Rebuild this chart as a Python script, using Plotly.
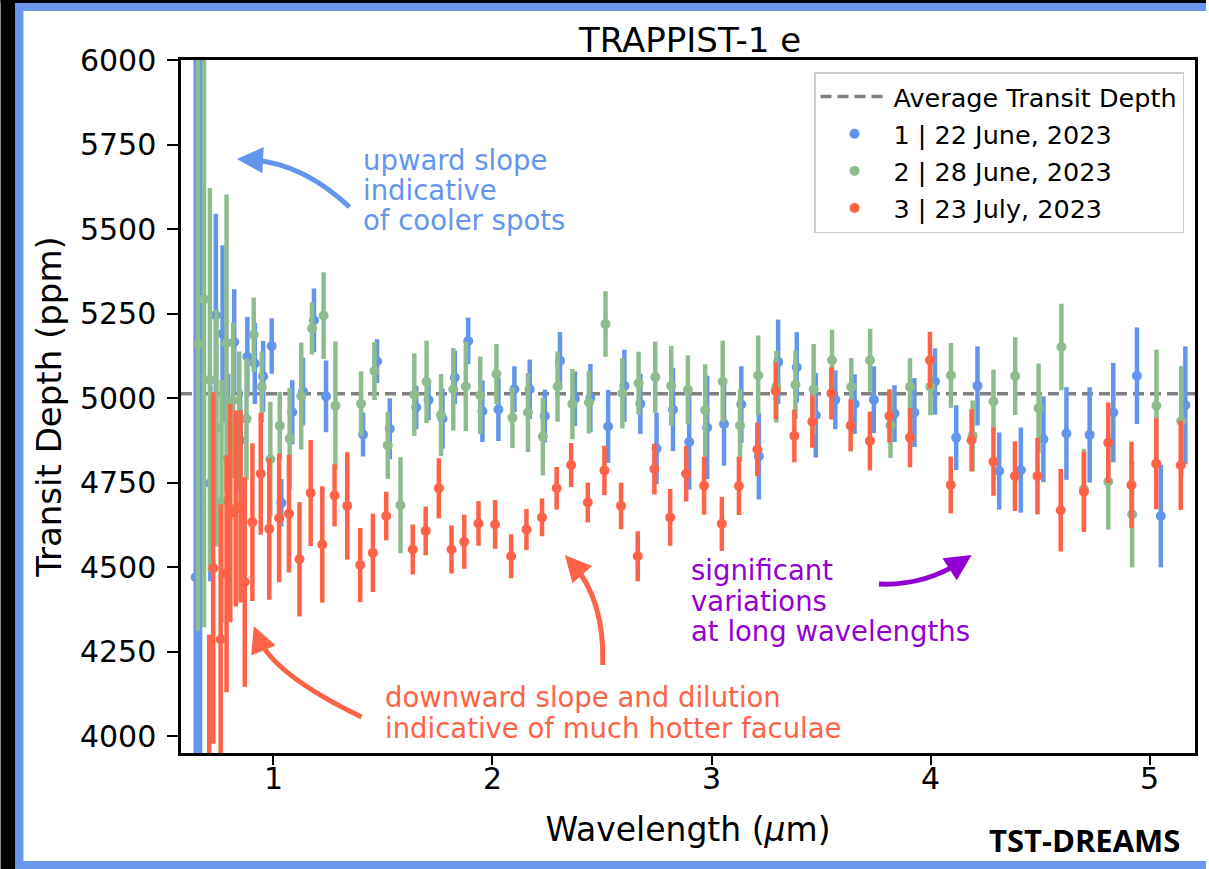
import plotly.graph_objects as go

# ---------------- data ----------------
avg_depth = 5013

wl_1 = [0.645, 0.665, 0.712, 0.737, 0.768, 0.793, 0.821, 0.848, 0.881, 0.915, 0.953, 0.992,
        1.036, 1.086, 1.135, 1.185, 1.240, 1.409, 1.473, 1.531, 1.652, 1.708,
        1.772, 1.828, 1.889, 1.954, 2.027, 2.100, 2.170, 2.239, 2.308, 2.376, 2.447, 2.528,
        2.602, 2.675, 2.749, 2.824, 2.898, 2.980, 3.057,
        3.136, 3.216, 3.304, 3.389, 3.476, 3.565, 3.653, 3.741, 3.835, 3.926, 4.020, 4.117,
        4.214, 4.313, 4.412, 4.515, 4.620, 4.726, 4.834, 4.942, 5.051, 5.163]
depth_1 = [4470, 4700, 4748, 5245, 5190, 4822, 5166, 4875, 5122, 5102, 5064, 5154,
           4690, 4958, 5019, 5230, 5005, 4892, 5109, 4909, 4972, 4994,
           4939, 5061, 5169, 4961, 4966, 5026, 5026, 4947, 5110, 4998, 5000, 4916,
           5036, 4983, 4851, 4966, 4870, 4913, 4923,
           4981, 4828, 5107, 5091, 4949, 4995, 4982, 4995, 4954, 4957, 5049, 4883,
           5036, 4784, 4787, 4878, 4895, 4891, 4957, 5066, 4651, 4979]
err_1 = [1550, 1400, 290, 300, 262, 250, 156, 150, 118, 120, 105, 82,
         70, 95, 100, 94, 106, 65, 65, 90, 64, 60,
         89, 79, 69, 91, 93, 68, 88, 78, 85, 81, 101, 108,
         107, 89, 106, 123, 141, 153, 123,
         113, 128, 125, 104, 125, 87, 88, 99, 84, 102, 98, 96,
         117, 114, 126, 127, 137, 141, 147, 143, 152, 174]

wl_2 = [0.655, 0.683, 0.710, 0.740, 0.763, 0.786, 0.816, 0.844, 0.877, 0.910, 0.947, 0.986,
        1.029, 1.074, 1.127, 1.176, 1.229, 1.283, 1.400, 1.461, 1.522, 1.580, 1.643, 1.699,
        1.765, 1.821, 1.878, 1.944, 2.018, 2.091, 2.162, 2.230, 2.297, 2.365, 2.440, 2.516,
        2.593, 2.667, 2.743, 2.816, 2.892, 2.971, 3.051,
        3.130, 3.213, 3.296, 3.383, 3.466, 3.550, 3.638, 3.724, 3.817, 3.906, 3.999, 4.093,
        4.192, 4.287, 4.386, 4.493, 4.597, 4.700, 4.811, 4.920, 5.031, 5.144]
depth_2 = [5160, 5292, 5054, 4911, 4694, 5162, 4993, 4938, 4938, 5187, 5033, 4819,
           4918, 4880, 5006, 5206, 5244, 4977, 4983, 5080, 4860, 4683, 5010, 5048,
           4950, 5026, 5034, 5008, 5071, 4942, 4957, 4886, 5034, 4982, 4987, 5219,
           5014, 5044, 5062, 5036, 5024, 4964, 5049,
           4919, 5067, 5033, 5039, 5026, 5112, 5033, 5112, 4919, 5033, 5033, 5067,
           4888, 4990, 5065, 4970, 5151, 4730, 4753, 4656, 4977, 4932]
err_2 = [850, 970, 567, 350, 360, 440, 230, 200, 180, 110, 105, 170,
         100, 150, 158, 77, 128, 190, 96, 86, 99, 142, 122, 122,
         121, 122, 132, 115, 89, 90, 117, 115, 104, 104, 92, 97,
         104, 93, 105, 118, 102, 136, 121,
         107, 118, 106, 101, 134, 90, 85, 93, 96, 85, 84, 96,
         105, 94, 115, 132, 128, 120, 142, 157, 166, 163]

wl_3 = [0.707, 0.725, 0.759, 0.786, 0.803, 0.828, 0.850, 0.869, 0.904, 0.942, 0.981,
        1.026, 1.071, 1.119, 1.170, 1.223, 1.279, 1.337, 1.396, 1.454, 1.515, 1.636, 1.695,
        1.755, 1.813, 1.871, 1.936, 2.012, 2.085, 2.155, 2.226, 2.293, 2.359, 2.435, 2.511,
        2.587, 2.663, 2.739, 2.811, 2.884, 2.966, 3.047,
        3.125, 3.209, 3.293, 3.378, 3.460, 3.547, 3.635, 3.723, 3.812, 3.906, 3.997, 4.092,
        4.187, 4.287, 4.385, 4.488, 4.594, 4.700, 4.811, 4.917, 5.030, 5.142]
depth_3 = [3850, 4497, 4286, 4480, 4660, 4673, 4680, 4456, 4633, 4776, 4613,
           4645, 4658, 4523, 4719, 4567, 4712, 4681, 4506, 4542, 4651, 4552, 4607,
           4733, 4552, 4575, 4629, 4626, 4532, 4611, 4647, 4733, 4802, 4691, 4786,
           4681, 4532, 4790, 4647, 4776, 4741, 4628,
           4740, 4848, 5021, 4888, 4930, 5014, 4919, 4873, 4947, 4883, 5112, 4743,
           4875, 4812, 4769, 4769, 4668, 4723, 4868, 4743, 4806, 4801]
err_3 = [450, 520, 400, 350, 323, 290, 285, 310, 233, 180, 210,
         190, 174, 169, 157, 172, 92, 159, 110, 116, 72, 74, 72,
         89, 71, 80, 66, 72, 65, 61, 56, 63, 65, 59, 73,
         69, 74, 75, 84, 82, 86, 80,
         86, 79, 84, 78, 77, 77, 77, 87, 79, 88, 84, 84,
         92, 101, 103, 113, 122, 119, 119, 128, 135, 132]

series_names = ["1 | 22 June, 2023", "2 | 28 June, 2023", "3 | 23 July, 2023"]
series_colors = ["#6495ED", "#8FBC8F", "#FF6347"]

x_range = [0.578, 5.207]
y_range = [3950, 6000]
y_ticks = [4000, 4250, 4500, 4750, 5000, 5250, 5500, 5750, 6000]
x_ticks = [1, 2, 3, 4, 5]

# ---------------- layout geometry ----------------
W, H = 1209, 869
L, R, T, B = 181, 11, 60, 116
PW, PH = W - L - R, H - T - B


def fx(px):
    return (px - L) / PW


def fy(py):
    return (H - B - py) / PH


FONT = "DejaVu Sans"
FRAME_BLUE = "#6A96EE"

fig = go.Figure()

fig.add_trace(go.Scatter(
    x=x_range, y=[avg_depth, avg_depth], mode="lines", legendgroup="avg",
    line=dict(color="rgba(85,85,85,0.75)", width=3.5, dash="11px,6px"),
    name="Average Transit Depth"))

for i, (wl, dep, err) in enumerate([(wl_1, depth_1, err_1), (wl_2, depth_2, err_2),
                                    (wl_3, depth_3, err_3)]):
    col = series_colors[i]
    fig.add_trace(go.Scatter(
        x=wl, y=dep, mode="markers", name=series_names[i], legendgroup=f"g{i}",
        marker=dict(color=col, size=10, line=dict(width=0)),
        error_y=dict(type="data", array=err, visible=True, thickness=4.5, width=0, color=col)))

# ---------------- background frame (left / top / bottom only) ----------------
def rect(x0, y0, x1, y1, color, layer="below"):
    return dict(type="rect", xref="paper", yref="paper", layer=layer,
                x0=fx(x0), x1=fx(x1), y0=fy(y1), y1=fy(y0),
                fillcolor=color, line=dict(width=0))

shapes = [
    rect(0, 0, 15, H, "black"),
    rect(0, 0, W, 3, "black"),
    rect(15, 3, 23, H, FRAME_BLUE),
    rect(15, 3, W, 11, FRAME_BLUE),
    rect(15, 861, W, H, FRAME_BLUE),
]

# ---------------- curved arrows ----------------
arrows = [
    # (tail, control, tip, color)
    ((350, 207), (302, 162), (237, 159), "#6495ED"),
    ((362, 717), (273, 674), (254, 626), "#FF6347"),
    ((604, 665), (606, 600), (566, 555), "#FF6347"),
    ((881, 584), (926, 586), (974, 555), "#9400D3"),
]
annotations = []
for (p0, c, p2, col) in arrows:
    dx, dy = c[0] - p2[0], c[1] - p2[1]
    n = (dx * dx + dy * dy) ** 0.5
    ux, uy = dx / n, dy / n
    hl = 12
    end = (p2[0] + ux * hl, p2[1] + uy * hl)
    shapes.append(dict(type="path", xref="paper", yref="paper", layer="above",
                       path=f"M {fx(p0[0])},{fy(p0[1])} Q {fx(c[0])},{fy(c[1])} {fx(end[0])},{fy(end[1])}",
                       line=dict(color=col, width=5)))
    annotations.append(dict(xref="paper", yref="paper", x=fx(p2[0]), y=fy(p2[1]),
                            ax=ux * 18, ay=uy * 18, text="", showarrow=True,
                            arrowhead=2, arrowsize=1.05, arrowwidth=5, arrowcolor=col))

# ---------------- texts ----------------
def txt(s, x, y, color, size, anchor="left", family=FONT):
    annotations.append(dict(xref="paper", yref="paper", x=fx(x), y=fy(y), text=s,
                            showarrow=False, xanchor=anchor, yanchor="middle",
                            font=dict(family=family, size=size, color=color)))

txt("TRAPPIST-1 e", 691, 40, "black", 34, anchor="center")
for i, s in enumerate(["upward slope", "indicative", "of cooler spots"]):
    txt(s, 362, 160 + 30 * i, "#6495ED", 27.5)
for i, s in enumerate(["downward slope and dilution", "indicative of much hotter faculae"]):
    txt(s, 384, 697 + 31 * i, "#FF6347", 27.5)
for i, s in enumerate(["significant", "variations", "at long wavelengths"]):
    txt(s, 691, 570 + 30.5 * i, "#9400D3", 27.5)
txt("<b>TST-DREAMS</b>", 1087, 840, "black", 31, anchor="center", family="Open Sans")

axis_common = dict(showline=True, linecolor="black", linewidth=2.5, mirror=True,
                   ticks="outside", tickwidth=2.2, tickcolor="black",
                   showgrid=False, zeroline=False,
                   tickfont=dict(family=FONT, size=30, color="black"))

fig.update_layout(
    width=W, height=H, autosize=False,
    margin=dict(l=L, r=R, t=T, b=B, pad=0),
    paper_bgcolor="white", plot_bgcolor="white",
    font=dict(family=FONT, color="black"),
    xaxis=dict(range=x_range, tickvals=x_ticks, ticklen=9, ticklabelstandoff=-12,
               title=dict(text="Wavelength (<i>μ</i>m)", font=dict(family=FONT, size=33), standoff=24),
               **axis_common),
    yaxis=dict(range=y_range, tickvals=y_ticks, ticklen=11, ticklabelstandoff=5,
               title=dict(text="Transit Depth (ppm)", font=dict(family=FONT, size=34), standoff=8),
               **axis_common),
    legend=dict(x=fx(1187), y=fy(72), xanchor="right", yanchor="top",
                bgcolor="rgba(255,255,255,0.85)", bordercolor="#cccccc", borderwidth=1.5,
                font=dict(family=FONT, size=25.5, color="black"), itemwidth=68,
                tracegroupgap=1),
    shapes=shapes, annotations=annotations, showlegend=True,
)

fig.write_html("out.html")
